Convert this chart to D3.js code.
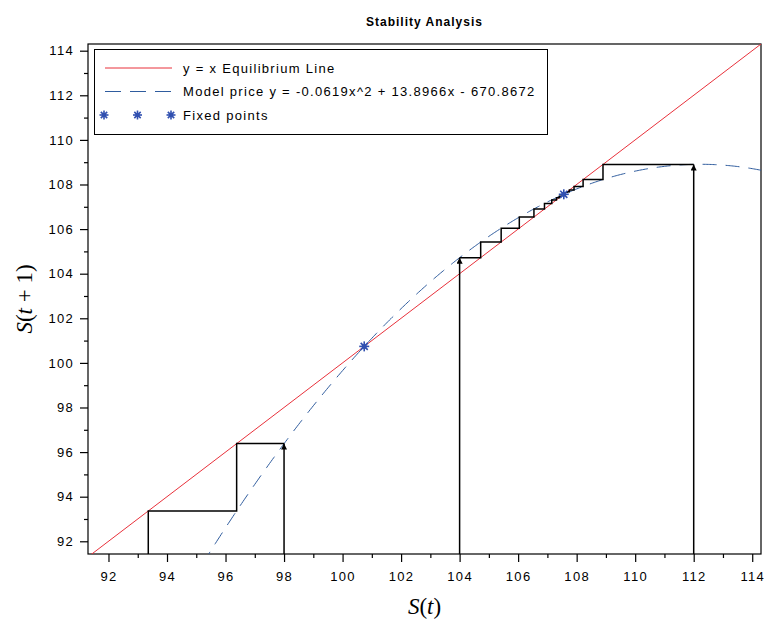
<!DOCTYPE html>
<html>
<head>
<meta charset="utf-8">
<script src="https://cdn.jsdelivr.net/npm/d3@7"></script>
<style>
  body { margin: 0; background: #ffffff; }
  svg text { font-family: "Liberation Sans", Arial, sans-serif; }
  .tick text { font-size: 13px; letter-spacing: 1.3px; fill: #000; }
  .tick line { stroke: #000; }
</style>
</head>
<body>
<svg id="chart" width="770" height="624"></svg>
<script>
// Axis ranges and ticks
const xDomain = [91.3, 114.3];
const yDomain = [91.43, 114.3];
const majorTicks = [92, 94, 96, 98, 100, 102, 104, 106, 108, 110, 112, 114];
const minorTicks = [93, 95, 97, 99, 101, 103, 105, 107, 109, 111, 113];

// Model y = a x^2 + b x + c (legend shows 4 decimals)
const modelCoefficients = [-0.061914, 13.8966, -670.8672];
const modelRange = [94, 114.3];

// Equilibrium line y = x
const equilibriumRange = [91.3, 114.3];

// Cobweb iterates S(0), S(1), S(2), ... for three starting prices
const cobweb98 = [98, 96.38, 93.36, 86.9];
const cobweb104 = [104, 104.72, 105.42, 106.04, 106.54, 106.9, 107.15, 107.31, 107.41, 107.47, 107.51];
const cobweb112 = [112, 108.9, 108.22, 107.91, 107.75, 107.67, 107.62];

// Fixed points of the map
const fixedPoints = [100.74, 107.56];

const legendLabels = [
  "y = x Equilibrium Line",
  `Model price y = ${modelCoefficients[0].toFixed(4)}x^2 + ${modelCoefficients[1].toFixed(4)}x - ${Math.abs(modelCoefficients[2]).toFixed(4)}`,
  "Fixed points"
];

const RED = "#e8313b";
const BLUE = "#2f5c9e";
const STAR = "#3150b0";

const svg = d3.select("#chart");
const margin = { left: 88, right: 9, top: 44, bottom: 70 };
const W = 770, H = 624;

const x = d3.scaleLinear().domain(xDomain).range([margin.left, W - margin.right]);
const y = d3.scaleLinear().domain(yDomain).range([H - margin.bottom, margin.top]);

svg.append("defs").append("clipPath").attr("id", "plot-clip")
  .append("rect")
  .attr("x", x.range()[0]).attr("y", y.range()[1])
  .attr("width", x.range()[1] - x.range()[0])
  .attr("height", y.range()[0] - y.range()[1]);

svg.select("defs").append("marker")
  .attr("id", "arrowhead")
  .attr("viewBox", "0 0 10 10")
  .attr("refX", 10).attr("refY", 5)
  .attr("markerUnits", "userSpaceOnUse")
  .attr("markerWidth", 8).attr("markerHeight", 6)
  .attr("orient", "auto")
  .append("path").attr("d", "M0,0 L10,5 L0,10 Z").attr("fill", "#000");

// Title
svg.append("text")
  .attr("x", (x.range()[0] + x.range()[1]) / 2)
  .attr("y", 26)
  .attr("text-anchor", "middle")
  .style("font-size", "12px")
  .style("font-weight", "bold")
  .style("letter-spacing", "1px")
  .text("Stability Analysis");

// Axes
const xAxis = svg.append("g").attr("transform", `translate(0,${y.range()[0]})`)
  .call(d3.axisBottom(x).tickValues(majorTicks).tickSize(8).tickSizeOuter(0).tickPadding(10).tickFormat(d3.format("d")));
const xMinor = svg.append("g").attr("transform", `translate(0,${y.range()[0]})`)
  .call(d3.axisBottom(x).tickValues(minorTicks).tickSize(4).tickSizeOuter(0).tickFormat(""));
const yAxis = svg.append("g").attr("transform", `translate(${x.range()[0]},0)`)
  .call(d3.axisLeft(y).tickValues(majorTicks).tickSize(8).tickSizeOuter(0).tickPadding(6).tickFormat(d3.format("d")));
const yMinor = svg.append("g").attr("transform", `translate(${x.range()[0]},0)`)
  .call(d3.axisLeft(y).tickValues(minorTicks).tickSize(4).tickSizeOuter(0).tickFormat(""));
[xAxis, xMinor, yAxis, yMinor].forEach(g => g.select(".domain").remove());
svg.selectAll(".tick line").attr("stroke-width", 1.2);

// Plot frame
svg.append("rect")
  .attr("x", x.range()[0]).attr("y", y.range()[1])
  .attr("width", x.range()[1] - x.range()[0])
  .attr("height", y.range()[0] - y.range()[1])
  .attr("fill", "none").attr("stroke", "#000").attr("stroke-width", 1.2);

const plot = svg.append("g").attr("clip-path", "url(#plot-clip)");

// Equilibrium line
plot.append("line")
  .attr("x1", x(equilibriumRange[0])).attr("y1", y(equilibriumRange[0]))
  .attr("x2", x(equilibriumRange[1])).attr("y2", y(equilibriumRange[1]))
  .attr("stroke", RED).attr("stroke-width", 1);

// Model curve
const model = v => modelCoefficients[0] * v * v + modelCoefficients[1] * v + modelCoefficients[2];
const modelXs = d3.range(modelRange[0], modelRange[1] + 1e-9, 0.05);
plot.append("path")
  .datum(modelXs)
  .attr("d", d3.line().x(v => x(v)).y(v => y(model(v))))
  .attr("fill", "none").attr("stroke", BLUE).attr("stroke-width", 1)
  .attr("stroke-dasharray", "14,9");

// Cobweb staircases with starting arrows
function drawCobweb(seq) {
  plot.append("line")
    .attr("x1", x(seq[0])).attr("y1", y(yDomain[0]))
    .attr("x2", x(seq[0])).attr("y2", y(seq[1]))
    .attr("stroke", "#000").attr("stroke-width", 1.5)
    .attr("marker-end", "url(#arrowhead)");
  const pts = [[seq[0], seq[1]]];
  for (let i = 1; i < seq.length - 1; i++) {
    pts.push([seq[i], seq[i]]);
    pts.push([seq[i], seq[i + 1]]);
  }
  plot.append("path")
    .datum(pts)
    .attr("d", d3.line().x(p => x(p[0])).y(p => y(p[1])))
    .attr("fill", "none").attr("stroke", "#000").attr("stroke-width", 1.5);
}
[cobweb98, cobweb104, cobweb112].forEach(drawCobweb);

// Asterisk marker
function star(g, cx, cy, r) {
  const s = g.append("g").attr("transform", `translate(${cx},${cy})`);
  for (let k = 0; k < 4; k++) {
    const a = k * Math.PI / 4;
    s.append("line")
      .attr("x1", -r * Math.cos(a)).attr("y1", -r * Math.sin(a))
      .attr("x2", r * Math.cos(a)).attr("y2", r * Math.sin(a))
      .attr("stroke", STAR).attr("stroke-width", 1.6);
  }
  s.append("circle").attr("r", r * 0.5).attr("fill", STAR);
}
fixedPoints.forEach(v => star(plot, x(v), y(v), 5));

// Legend
const legend = svg.append("g");
legend.append("rect")
  .attr("x", 94.5).attr("y", 49.5).attr("width", 453).attr("height", 85)
  .attr("fill", "#fff").attr("stroke", "#000").attr("stroke-width", 1);
const rowY = [68, 91.5, 115];
legend.append("line").attr("x1", 105).attr("x2", 172).attr("y1", rowY[0]).attr("y2", rowY[0])
  .attr("stroke", RED).attr("stroke-width", 1);
legend.append("line").attr("x1", 105).attr("x2", 172).attr("y1", rowY[1]).attr("y2", rowY[1])
  .attr("stroke", BLUE).attr("stroke-width", 1).attr("stroke-dasharray", "16,9");
[104, 137.5, 171].forEach(cx => star(legend, cx, rowY[2], 4.5));
legendLabels.forEach((t, i) => {
  legend.append("text")
    .attr("x", 183).attr("y", rowY[i])
    .attr("dy", "0.36em")
    .style("font-size", "13px")
    .style("letter-spacing", "1.3px")
    .text(t);
});

// Axis titles
const serif = "'Liberation Serif', 'Times New Roman', serif";
const xt = svg.append("text")
  .attr("x", (x.range()[0] + x.range()[1]) / 2).attr("y", 614)
  .attr("text-anchor", "middle")
  .style("font-family", serif).style("font-size", "23px");
xt.append("tspan").style("font-style", "italic").text("S");
xt.append("tspan").text("(");
xt.append("tspan").style("font-style", "italic").text("t");
xt.append("tspan").text(")");

const yt = svg.append("text")
  .attr("transform", `translate(32,${(y.range()[0] + y.range()[1]) / 2}) rotate(-90)`)
  .attr("text-anchor", "middle")
  .style("font-family", serif).style("font-size", "23px");
yt.append("tspan").style("font-style", "italic").text("S");
yt.append("tspan").text("(");
yt.append("tspan").style("font-style", "italic").text("t");
yt.append("tspan").text(" + 1)");
</script>
</body>
</html>
